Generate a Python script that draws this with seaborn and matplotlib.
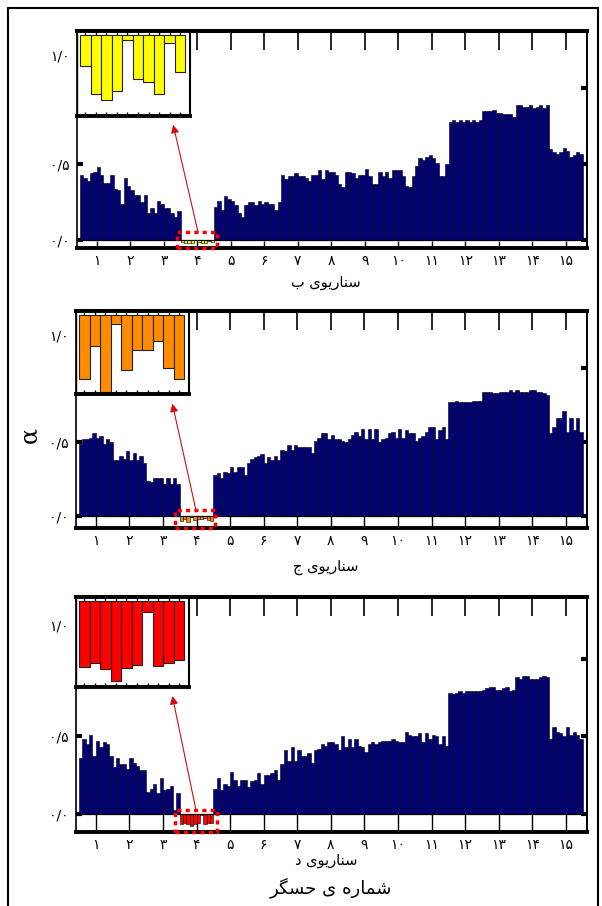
import numpy as np
import pandas as pd
import matplotlib
matplotlib.use("Agg")
import matplotlib.pyplot as plt
import seaborn as sns
from matplotlib.patches import Rectangle

sns.set_style("ticks", {"axes.edgecolor": "black", "xtick.color": "black",
                        "ytick.color": "black", "text.color": "black"})
plt.rcParams["font.family"] = ["DejaVu Sans"]

# sensor numbers 1..15, 10 bars per sensor
sensors = list(range(1, 16))
per_sensor = 10

# scenario b
alpha_b = [0.43, 0.41, 0.39, 0.44, 0.45, 0.48, 0.43, 0.38, 0.38, 0.43,
           0.34, 0.33, 0.24, 0.41, 0.36, 0.33, 0.30, 0.30, 0.25, 0.30,
           0.18, 0.21, 0.18, 0.26, 0.24, 0.21, 0.21, 0.18, 0.15, 0.19,
           -0.010, -0.019, -0.021, -0.018, -0.0015, -0.014, -0.015, -0.019, -0.0025, -0.012,
           0.22, 0.26, 0.20, 0.29, 0.27, 0.26, 0.23, 0.18, 0.15, 0.23,
           0.25, 0.25, 0.23, 0.26, 0.24, 0.25, 0.24, 0.24, 0.20, 0.25,
           0.43, 0.40, 0.42, 0.42, 0.44, 0.42, 0.42, 0.41, 0.39, 0.43,
           0.43, 0.46, 0.40, 0.46, 0.45, 0.45, 0.43, 0.37, 0.35, 0.45,
           0.45, 0.44, 0.41, 0.43, 0.43, 0.47, 0.42, 0.37, 0.37, 0.45,
           0.42, 0.45, 0.41, 0.46, 0.46, 0.46, 0.42, 0.36, 0.35, 0.42,
           0.49, 0.54, 0.53, 0.55, 0.56, 0.54, 0.51, 0.42, 0.42, 0.50,
           0.78, 0.79, 0.78, 0.79, 0.78, 0.79, 0.78, 0.79, 0.78, 0.79,
           0.85, 0.85, 0.85, 0.86, 0.84, 0.84, 0.83, 0.83, 0.83, 0.81,
           0.89, 0.89, 0.88, 0.88, 0.89, 0.87, 0.88, 0.89, 0.87, 0.89,
           0.60, 0.58, 0.57, 0.58, 0.61, 0.59, 0.55, 0.56, 0.58, 0.57]

# scenario c
alpha_c = [0.49, 0.52, 0.52, 0.53, 0.56, 0.53, 0.54, 0.49, 0.52, 0.50,
           0.38, 0.38, 0.41, 0.39, 0.44, 0.38, 0.43, 0.38, 0.41, 0.36,
           0.24, 0.23, 0.26, 0.26, 0.26, 0.22, 0.26, 0.22, 0.26, 0.22,
           -0.029, -0.014, -0.035, -0.004, -0.025, -0.016, -0.016, -0.012, -0.024, -0.029,
           0.28, 0.29, 0.26, 0.30, 0.29, 0.33, 0.30, 0.33, 0.33, 0.28,
           0.36, 0.39, 0.40, 0.41, 0.42, 0.36, 0.40, 0.38, 0.41, 0.38,
           0.45, 0.44, 0.48, 0.45, 0.48, 0.47, 0.47, 0.47, 0.47, 0.43,
           0.51, 0.53, 0.56, 0.56, 0.52, 0.55, 0.52, 0.52, 0.51, 0.50,
           0.52, 0.55, 0.57, 0.54, 0.59, 0.52, 0.59, 0.52, 0.59, 0.50,
           0.52, 0.53, 0.56, 0.57, 0.53, 0.59, 0.53, 0.58, 0.56, 0.56,
           0.51, 0.53, 0.54, 0.57, 0.60, 0.60, 0.52, 0.58, 0.60, 0.52,
           0.77, 0.77, 0.78, 0.77, 0.77, 0.77, 0.77, 0.78, 0.78, 0.78,
           0.84, 0.84, 0.84, 0.83, 0.83, 0.84, 0.84, 0.84, 0.85, 0.84,
           0.85, 0.84, 0.84, 0.84, 0.85, 0.85, 0.84, 0.84, 0.83, 0.82,
           0.56, 0.60, 0.66, 0.66, 0.71, 0.57, 0.66, 0.58, 0.66, 0.57]

# scenario d
alpha_d = [0.36, 0.48, 0.45, 0.51, 0.37, 0.47, 0.43, 0.46, 0.45, 0.37,
           0.30, 0.36, 0.32, 0.32, 0.29, 0.36, 0.33, 0.31, 0.28, 0.28,
           0.14, 0.16, 0.19, 0.13, 0.23, 0.15, 0.16, 0.18, 0.02, 0.13,
           -0.066, -0.062, -0.068, -0.080, -0.067, -0.064, -0.011, -0.065, -0.062, -0.059,
           0.16, 0.23, 0.15, 0.19, 0.18, 0.27, 0.22, 0.18, 0.22, 0.22,
           0.17, 0.21, 0.22, 0.26, 0.19, 0.25, 0.25, 0.26, 0.28, 0.22,
           0.32, 0.41, 0.34, 0.43, 0.34, 0.41, 0.37, 0.37, 0.39, 0.33,
           0.41, 0.42, 0.45, 0.44, 0.46, 0.46, 0.45, 0.41, 0.50, 0.43,
           0.48, 0.43, 0.48, 0.44, 0.43, 0.40, 0.45, 0.46, 0.45, 0.46,
           0.47, 0.47, 0.47, 0.48, 0.47, 0.46, 0.46, 0.53, 0.51, 0.50,
           0.50, 0.52, 0.46, 0.52, 0.48, 0.51, 0.50, 0.45, 0.50, 0.44,
           0.78, 0.77, 0.78, 0.79, 0.78, 0.79, 0.79, 0.79, 0.79, 0.79,
           0.80, 0.81, 0.82, 0.82, 0.80, 0.80, 0.81, 0.82, 0.79, 0.80,
           0.88, 0.87, 0.89, 0.89, 0.87, 0.87, 0.87, 0.88, 0.89, 0.88,
           0.48, 0.56, 0.53, 0.52, 0.50, 0.56, 0.51, 0.53, 0.51, 0.48]

zoom_sensor = 4

# Persian labels, already in shaped (presentation) form and visual order
label_b = "\uFE8F \uFBFC\uFEEE\uFBFE\uFEAD\uFE8E\uFEE8\uFEB3"   # سناریوی ب
label_c = "\uFE9D \uFBFC\uFEEE\uFBFE\uFEAD\uFE8E\uFEE8\uFEB3"   # سناریوی ج
label_d = "\uFEA9 \uFBFC\uFEEE\uFBFE\uFEAD\uFE8E\uFEE8\uFEB3"   # سناریوی د
label_x = "\uFEAE\uFB95\uFEB4\uFEA3 \uFBFC \uFEE9\uFEAD\uFE8E\uFEE4\uFEB7"  # شماره ی حسگر

fa_digits = str.maketrans("0123456789", "۰۱۲۳۴۵۶۷۸۹")
ytick_labels = ["۰/۰", "۰/۵", "۱/۰"]

navy = "#000080"
W, H = 602, 906


def frame(l, t, r, b):
    return [l / W, 1 - b / H, (r - l) / W, (b - t) / H]


panels = [
    dict(vals=alpha_b, color="#FFFF00", label=label_b, main=(77, 31, 587, 248),
         inset=(77, 31, 190, 116), ylim=(-0.051, 1.377), ifloor=-0.026,
         btick=5, box=(28.4, 40.3, 0.055), arrow=(34.7, 0.055, 27.3, 0.76),
         lab_y=283),
    dict(vals=alpha_c, color="#FF8C00", label=label_c, main=(76, 311, 587, 528),
         inset=(76, 311, 189, 394), ylim=(-0.078, 1.384), ifloor=-0.036,
         btick=8.5, box=(28.2, 40.1, 0.045), arrow=(34.3, 0.045, 27.3, 0.76),
         lab_y=567),
    dict(vals=alpha_d, color="#FF0000", label=label_d, main=(76, 597, 587, 832),
         inset=(76, 597, 189, 687), ylim=(-0.119, 1.40), ifloor=-0.086,
         btick=13, box=(28.2, 40.5, 0.026), arrow=(34.3, 0.026, 27.3, 0.76),
         lab_y=861),
]

fig = plt.figure(figsize=(W / 100, H / 100), dpi=100)

centers = [per_sensor * (s - 1) + (per_sensor - 1) / 2 for s in sensors]
lo, hi = (zoom_sensor - 1) * per_sensor, zoom_sensor * per_sensor

for p in panels:
    ax = fig.add_axes(frame(*p["main"]))
    df = pd.DataFrame({"bar": np.arange(len(p["vals"])), "alpha": p["vals"]})
    df["part"] = np.where((df["bar"] >= lo) & (df["bar"] < hi), "zoom", "main")
    sns.barplot(data=df, x="bar", y="alpha", hue="part",
                palette={"main": navy, "zoom": p["color"]}, dodge=False,
                width=1.0, saturation=1, edgecolor="black", linewidth=0.4,
                legend=False, ax=ax)
    ax.axhline(0, color="black", lw=0.9, zorder=3)
    ax.set_xlim(-1.4, 150.8)
    ax.set_ylim(*p["ylim"])
    ax.set_xlabel("")
    ax.set_ylabel("")

    ax.set_xticks(centers)
    ax.set_xticklabels([str(s).translate(fa_digits) for s in sensors], fontsize=10)
    ax.tick_params(axis="x", direction="in", length=p["btick"], width=1,
                   bottom=True, top=False, pad=4)
    ax.set_yticks([0, 0.5, 1.22])
    ax.set_yticklabels(ytick_labels, fontsize=10)
    ax.tick_params(axis="y", direction="in", length=4, width=3, left=True, pad=5)

    top = ax.secondary_xaxis("top")
    top.set_xticks(centers)
    top.tick_params(direction="in", length=14, width=1.2, top=True, labeltop=False)
    top.spines["top"].set_linewidth(2.8)
    right = ax.secondary_yaxis("right")
    right.set_yticks([0, 0.5, 1.0])
    right.tick_params(direction="in", length=4, width=3, right=True, labelright=False)
    right.spines["right"].set_linewidth(1.2)

    ax.spines["bottom"].set_linewidth(2.8)
    ax.spines["top"].set_linewidth(2.8)
    ax.spines["left"].set_linewidth(1.2)
    ax.spines["right"].set_linewidth(1.2)

    # red dashed box round the zoomed sensor
    x0, x1, ytop = p["box"]
    ybot = p["ylim"][0]
    ax.add_patch(Rectangle((x0, ybot), x1 - x0, ytop - ybot, fill=False,
                           edgecolor="red", lw=2.5, linestyle=(0, (1.2, 1.2)),
                           zorder=5, clip_on=False))
    tx, ty, hx, hy = p["arrow"]
    ax.annotate("", xy=(hx, hy), xytext=(tx, ty),
                arrowprops=dict(arrowstyle="-|>", color="#D01010", lw=0.8,
                                mutation_scale=12, shrinkA=0, shrinkB=0),
                zorder=6)

    # inset with the small values of the zoomed sensor
    iax = fig.add_axes(frame(*p["inset"]))
    iax.set_facecolor("white")
    sns.barplot(x=np.arange(per_sensor), y=p["vals"][lo:hi], color=p["color"],
                saturation=1, width=1.0, edgecolor="#222222", linewidth=0.8,
                ax=iax)
    iax.set_xlim(-0.79, 9.93)
    iax.set_ylim(p["ifloor"], -p["ifloor"] * 0.05)
    iax.set_xticks(np.arange(per_sensor))
    iax.set_xticklabels([])
    iax.set_yticks([])
    iax.tick_params(axis="x", direction="in", length=3, width=1,
                    bottom=True, top=True)
    iax.spines["bottom"].set_linewidth(2.8)
    iax.spines["top"].set_linewidth(2.8)
    iax.spines["left"].set_linewidth(1.0)
    iax.spines["right"].set_linewidth(1.5)

    fig.text(326 / W, 1 - p["lab_y"] / H, p["label"], ha="center", va="center",
             fontsize=10.5)

fig.text(331 / W, 1 - 888 / H, label_x, ha="center", va="center", fontsize=13)
fig.text(30 / W, 1 - 435 / H, "α", ha="center", va="center", rotation=90,
         fontsize=17, family="DejaVu Serif")

fig.patches.append(Rectangle((8 / W, -0.02), 590 / W, 1 - 8 / H + 0.02,
                             transform=fig.transFigure, fill=False,
                             edgecolor="black", lw=1.5))

fig.savefig("out.png", dpi=100)
